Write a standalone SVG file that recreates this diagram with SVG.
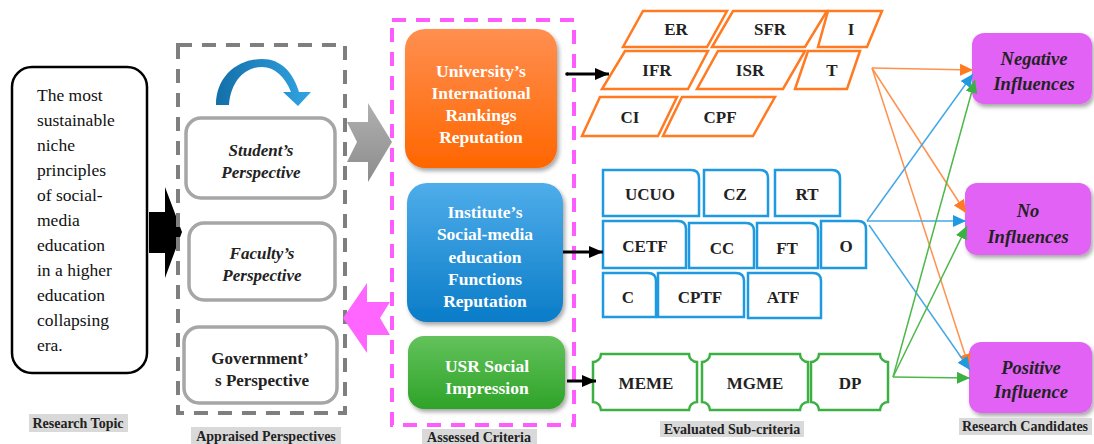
<svg xmlns="http://www.w3.org/2000/svg" width="1094" height="444" viewBox="0 0 1094 444" font-family="'Liberation Serif', 'Times New Roman', serif">
<style>
text{font-family:"Liberation Serif","Times New Roman",serif;}
.topic{font-size:17.5px;fill:#111;}
.persp{font-size:17px;font-weight:bold;font-style:italic;fill:#222;text-anchor:middle;}
.gov{font-size:17px;font-weight:bold;fill:#222;text-anchor:middle;}
.crit{font-size:17.5px;font-weight:bold;fill:#fff;text-anchor:middle;}
.sub{font-size:17px;font-weight:bold;fill:#222;text-anchor:middle;}
.cand{font-size:18.5px;font-weight:bold;font-style:italic;fill:#222;text-anchor:middle;}
.lbl{font-size:14px;font-weight:bold;fill:#222;text-anchor:middle;}
.lblbg{fill:#d9d9d9;}
.pbox{fill:#fff;stroke:#a6a6a6;stroke-width:3.5;}
.oshape{fill:#fff;stroke:#ff7a21;stroke-width:2.5;}
.bshape{fill:#fff;stroke:#1f9ae0;stroke-width:2.5;}
.gshape{fill:#fff;stroke:#3cb043;stroke-width:2.5;}
.candbox{fill:#e362f6;filter:url(#sh);}
.blk{stroke:#000;stroke-width:3;fill:none;marker-end:url(#mk);}
.lo{stroke:#ff914d;stroke-width:1.5;fill:none;marker-end:url(#mo);}
.lb{stroke:#45a8e6;stroke-width:1.5;fill:none;marker-end:url(#mb);}
.lg{stroke:#4cb84a;stroke-width:1.5;fill:none;marker-end:url(#mg);}
</style>
<defs>
<filter id="sh" x="-20%" y="-20%" width="140%" height="140%">
<feDropShadow dx="2" dy="3" stdDeviation="2" flood-color="#000" flood-opacity="0.35"/>
</filter>
<linearGradient id="go" x1="0" y1="0" x2="0" y2="1"><stop offset="0" stop-color="#ff8f50"/><stop offset="1" stop-color="#ff6600"/></linearGradient>
<linearGradient id="gb" x1="0" y1="0" x2="0" y2="1"><stop offset="0" stop-color="#4fadea"/><stop offset="1" stop-color="#0a7cc8"/></linearGradient>
<linearGradient id="gg" x1="0" y1="0" x2="0" y2="1"><stop offset="0" stop-color="#63c25c"/><stop offset="1" stop-color="#2ea328"/></linearGradient>
<linearGradient id="ggray" x1="0" y1="0" x2="0" y2="1"><stop offset="0" stop-color="#b0b0b0"/><stop offset="1" stop-color="#8c8c8c"/></linearGradient>
<linearGradient id="gcurve" x1="0" y1="0" x2="1" y2="0"><stop offset="0" stop-color="#136fa8"/><stop offset="1" stop-color="#31a4e3"/></linearGradient>
<marker id="mk" markerUnits="userSpaceOnUse" markerWidth="16" markerHeight="14" refX="14" refY="7" orient="auto"><path d="M0,1 L14,7 L0,13 Z" fill="#000"/></marker>
<marker id="mo" markerUnits="userSpaceOnUse" markerWidth="14" markerHeight="12" refX="13" refY="6" orient="auto"><path d="M0,0 L13,6 L0,12 Z" fill="#ff7a21"/></marker>
<marker id="mb" markerUnits="userSpaceOnUse" markerWidth="14" markerHeight="12" refX="13" refY="6" orient="auto"><path d="M0,0 L13,6 L0,12 Z" fill="#1f9ae0"/></marker>
<marker id="mg" markerUnits="userSpaceOnUse" markerWidth="14" markerHeight="12" refX="13" refY="6" orient="auto"><path d="M0,0 L13,6 L0,12 Z" fill="#3cb043"/></marker>
</defs>
<rect width="1094" height="444" fill="#fff"/>

<g id="research-topic">
<rect x="12" y="67" width="135" height="306" rx="20" fill="#fff" stroke="#000" stroke-width="2.5"/>
<text class="topic" x="37" y="101">The most</text>
<text class="topic" x="37" y="126">sustainable</text>
<text class="topic" x="37" y="151">niche</text>
<text class="topic" x="37" y="176">principles</text>
<text class="topic" x="37" y="201">of social-</text>
<text class="topic" x="37" y="226">media</text>
<text class="topic" x="37" y="251">education</text>
<text class="topic" x="37" y="276">in a higher</text>
<text class="topic" x="37" y="301">education</text>
<text class="topic" x="37" y="326">collapsing</text>
<text class="topic" x="37" y="351">era.</text>
</g>

<g id="label-topic">
<rect class="lblbg" x="29" y="414" width="99" height="18"/>
<text class="lbl" x="78" y="428">Research Topic</text>
</g>

<g id="black-arrow">
<path d="M149,212 H165 V187 L182,232 L165,278 V253 H149 Z" fill="#000"/>
</g>

<g id="appraised-perspectives">
<rect x="178" y="45" width="167" height="368" fill="none" stroke="#7f7f7f" stroke-width="4" stroke-dasharray="14 10"/>
<path d="M216,105 C216,76 238,59 262,59 C281,59 293,72 299,92 L311,92 L298,106 L283,92 L291,92 C285,77 275,67 262,67 C246,67 231,80 229,105 Z" fill="url(#gcurve)"/>
<g id="student">
<rect class="pbox" x="186" y="118" width="149" height="80" rx="15"/>
<text class="persp" x="261" y="156">Student’s</text>
<text class="persp" x="261" y="178">Perspective</text>
</g>
<g id="faculty">
<rect class="pbox" x="189" y="223" width="146" height="77" rx="15"/>
<text class="persp" x="262" y="259">Faculty’s</text>
<text class="persp" x="262" y="281">Perspective</text>
</g>
<g id="government">
<rect class="pbox" x="184" y="327" width="153" height="76" rx="15"/>
<text class="gov" x="260" y="364">Government’</text>
<text class="gov" x="262" y="386">s Perspective</text>
</g>
</g>

<g id="label-appraised">
<rect class="lblbg" x="191" y="427" width="150" height="17"/>
<text class="lbl" x="266" y="441">Appraised Perspectives</text>
</g>

<g id="gray-arrow">
<path d="M347,122 H368 V103 L392,142 L368,182 V162 H347 L357,142 Z" fill="url(#ggray)"/>
</g>
<g id="pink-arrow">
<path d="M343,318 L367,283 V302 H390 L380,318 L390,335 H367 V353 Z" fill="#ff66ff"/>
</g>

<g id="assessed-criteria">
<rect x="392" y="20" width="182" height="405" fill="none" stroke="#ff5cff" stroke-width="4" stroke-dasharray="14 10"/>
<g id="crit-university">
<rect x="405" y="29" width="152" height="139" rx="20" fill="url(#go)" filter="url(#sh)"/>
<text class="crit" x="481" y="77">University’s</text>
<text class="crit" x="481" y="99">International</text>
<text class="crit" x="481" y="121">Rankings</text>
<text class="crit" x="481" y="143">Reputation</text>
</g>
<g id="crit-institute">
<rect x="407" y="183" width="156" height="139" rx="20" fill="url(#gb)" filter="url(#sh)"/>
<text class="crit" x="485" y="218">Institute’s</text>
<text class="crit" x="485" y="240">Social-media</text>
<text class="crit" x="485" y="263">education</text>
<text class="crit" x="485" y="285">Functions</text>
<text class="crit" x="485" y="307">Reputation</text>
</g>
<g id="crit-usr">
<rect x="408" y="336" width="157" height="73" rx="16" fill="url(#gg)" filter="url(#sh)"/>
<text class="crit" x="487" y="372">USR Social</text>
<text class="crit" x="487" y="394">Impression</text>
</g>
</g>

<g id="label-assessed">
<rect class="lblbg" x="422" y="429" width="115" height="15"/>
<text class="lbl" x="479" y="442">Assessed Criteria</text>
</g>

<g id="sub-orange">
<path class="oshape" d="M643,11 H727 L707,47 H623 Z"/><text class="sub" x="676" y="35">ER</text>
<path class="oshape" d="M733,11 H827 L805,47 H712 Z"/><text class="sub" x="770" y="35">SFR</text>
<path class="oshape" d="M828,11 H882 L867,47 H818 Z"/><text class="sub" x="851" y="35">I</text>
<path class="oshape" d="M625,51 H708 L688,89 H602 Z"/><text class="sub" x="657" y="76">IFR</text>
<path class="oshape" d="M718,51 H805 L783,89 H697 Z"/><text class="sub" x="750" y="76">ISR</text>
<path class="oshape" d="M808,51 H860 L847,89 H795 Z"/><text class="sub" x="832" y="76">T</text>
<path class="oshape" d="M600,97 H677 L658,136 H582 Z"/><text class="sub" x="630" y="123">CI</text>
<path class="oshape" d="M682,97 H775 L753,136 H663 Z"/><text class="sub" x="720" y="123">CPF</text>
</g>

<g id="sub-blue">
<path class="bshape" d="M603,170 H691 Q699,170 699,178 V216 H603 Z"/><text class="sub" x="650" y="200">UCUO</text>
<path class="bshape" d="M704,170 H760 Q768,170 768,178 V216 H704 Z"/><text class="sub" x="735" y="200">CZ</text>
<path class="bshape" d="M775,170 H832 Q840,170 840,178 V216 H775 Z"/><text class="sub" x="807" y="200">RT</text>
<path class="bshape" d="M603,221 H678 Q686,221 686,229 V268 H603 Z"/><text class="sub" x="645" y="252">CETF</text>
<path class="bshape" d="M689,223 H746 Q754,223 754,231 V268 H689 Z"/><text class="sub" x="722" y="254">CC</text>
<path class="bshape" d="M757,223 H810 Q818,223 818,231 V268 H757 Z"/><text class="sub" x="787" y="254">FT</text>
<path class="bshape" d="M821,221 H858 Q866,221 866,229 V268 H821 Z"/><text class="sub" x="846" y="252">O</text>
<path class="bshape" d="M603,273 H648 Q656,273 656,281 V317 H603 Z"/><text class="sub" x="628" y="303">C</text>
<path class="bshape" d="M658,273 H736 Q744,273 744,281 V317 H658 Z"/><text class="sub" x="700" y="303">CPTF</text>
<path class="bshape" d="M748,273 H813 Q821,273 821,281 V318 H748 Z"/><text class="sub" x="783" y="303">ATF</text>
</g>

<g id="sub-green">
<path class="gshape" d="M601,354 H689 A8,8 0 0 0 697,362 V402 A8,8 0 0 0 689,410 H601 A8,8 0 0 0 593,402 V362 A8,8 0 0 0 601,354 Z"/><text class="sub" x="646" y="389">MEME</text>
<path class="gshape" d="M710,354 H800 A8,8 0 0 0 808,362 V402 A8,8 0 0 0 800,410 H710 A8,8 0 0 0 702,402 V362 A8,8 0 0 0 710,354 Z"/><text class="sub" x="755" y="389">MGME</text>
<path class="gshape" d="M819,354 H880 A8,8 0 0 0 888,362 V402 A8,8 0 0 0 880,410 H819 A8,8 0 0 0 811,402 V362 A8,8 0 0 0 819,354 Z"/><text class="sub" x="850" y="389">DP</text>
</g>

<g id="label-evaluated">
<rect class="lblbg" x="660" y="421" width="144" height="16"/>
<text class="lbl" x="732" y="434">Evaluated Sub-criteria</text>
</g>

<g id="candidates">
<g id="cand-negative">
<rect class="candbox" x="972" y="33" width="120" height="71" rx="12"/>
<text class="cand" x="1034" y="65">Negative</text>
<text class="cand" x="1034" y="90">Influences</text>
</g>
<g id="cand-no">
<rect class="candbox" x="965" y="183" width="126" height="72" rx="12"/>
<text class="cand" x="1028" y="217">No</text>
<text class="cand" x="1028" y="243">Influences</text>
</g>
<g id="cand-positive">
<rect class="candbox" x="969" y="342" width="123" height="71" rx="12"/>
<text class="cand" x="1031" y="374">Positive</text>
<text class="cand" x="1031" y="398">Influence</text>
</g>
</g>

<g id="label-candidates">
<rect class="lblbg" x="959" y="418" width="133" height="17"/>
<text class="lbl" x="1025" y="431">Research Candidates</text>
</g>

<g id="connectors">
<circle cx="567" cy="74" r="1.8" fill="#000"/>
<line class="blk" x1="567" y1="74" x2="609" y2="74"/>
<line class="blk" x1="563" y1="252" x2="603" y2="252"/>
<line class="blk" x1="567" y1="381" x2="596" y2="381"/>
<line class="lo" x1="872" y1="68" x2="973" y2="70"/>
<line class="lo" x1="872" y1="68" x2="966" y2="213"/>
<line class="lo" x1="872" y1="68" x2="969" y2="367"/>
<line class="lb" x1="867" y1="221" x2="973" y2="74"/>
<line class="lb" x1="867" y1="221" x2="966" y2="221"/>
<line class="lb" x1="869" y1="225" x2="970" y2="370"/>
<line class="lg" x1="893" y1="377" x2="975" y2="80"/>
<line class="lg" x1="893" y1="377" x2="967" y2="226"/>
<line class="lg" x1="893" y1="377" x2="970" y2="378"/>
</g>
</svg>
